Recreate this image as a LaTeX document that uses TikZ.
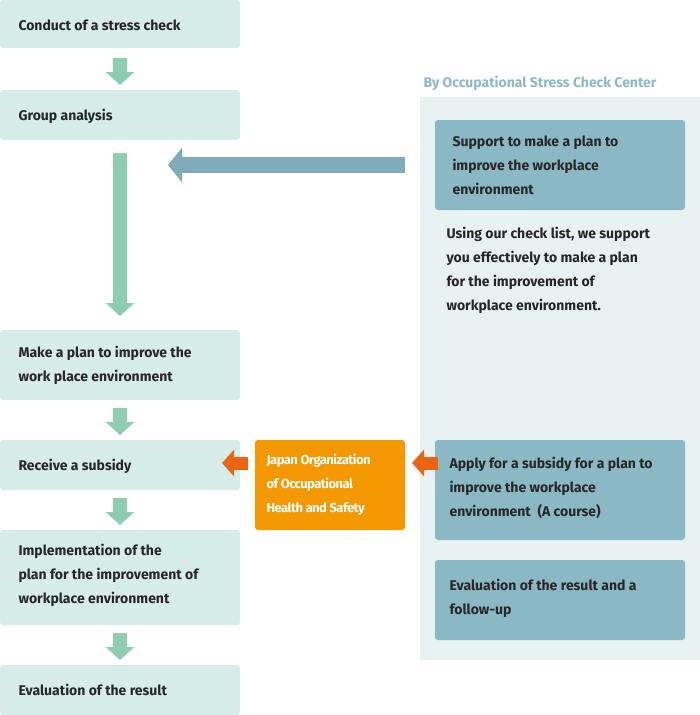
\documentclass[tikz,border=0pt]{standalone}
\usepackage{fontspec}
\setmainfont{Fira Sans}
\usetikzlibrary{arrows.meta}
\definecolor{mint}{HTML}{D6EDE9}
\definecolor{garrow}{HTML}{8DCDB0}
\definecolor{panel}{HTML}{E9F2F3}
\definecolor{dbox}{HTML}{8AB9C5}
\definecolor{barrow}{HTML}{80ABB9}
\definecolor{orng}{HTML}{F39800}
\definecolor{oarrow}{HTML}{EA6511}
\definecolor{ttl}{HTML}{8CB9C6}
\begin{document}
\begin{tikzpicture}[x=1pt,y=-1pt,
 lbox/.style={fill=mint,rounded corners=3pt,draw=none},
 rbox/.style={fill=dbox,rounded corners=3pt,draw=none},
 ltxt/.style={anchor=west,align=left,font=\fontsize{14}{24}\selectfont\bfseries,text=black!85},
 garr/.style={line width=14pt,draw=garrow,-{Triangle[length=13pt,width=28pt]}},
 barr/.style={line width=16pt,draw=barrow,-{Triangle[length=14pt,width=34pt]}},
 oarr/.style={line width=13pt,draw=oarrow,-{Triangle[length=12pt,width=26pt]}}]
\useasboundingbox (0,0) rectangle (700,715);
\fill[panel] (420,97) rectangle (700,660);
\node[anchor=west,text=ttl,font=\fontsize{14}{16}\selectfont\bfseries] (title) at (420,83) {By Occupational Stress Check Center};
% left boxes
\fill[lbox] (0,0) rectangle (240,48); \node[ltxt] (b1) at (15,25) {Conduct of a stress check};
\fill[lbox] (0,90) rectangle (240,140); \node[ltxt] (b2) at (15,116) {Group analysis};
\fill[lbox] (0,330) rectangle (240,400); \node[ltxt] (b3) at (15,365) {Make a plan to improve the\\work place environment};
\fill[lbox] (0,440) rectangle (240,490); \node[ltxt] (b4) at (15,466) {Receive a subsidy};
\fill[lbox] (0,530) rectangle (240,625); \node[ltxt] (b5) at (15,575) {Implementation of the\\plan for the improvement of\\workplace environment};
\fill[lbox] (0,665) rectangle (240,715); \node[ltxt] (b6) at (15,690) {Evaluation of the result};
% green arrows
\coordinate (g1a) at (120,58); \coordinate (g1b) at (120,85);
\coordinate (g2a) at (120,153); \coordinate (g2b) at (120,316);
\coordinate (g3a) at (120,408); \coordinate (g3b) at (120,435);
\coordinate (g4a) at (120,498); \coordinate (g4b) at (120,525);
\coordinate (g5a) at (120,633); \coordinate (g5b) at (120,660);
\draw[garr] (g1a)--(g1b); \draw[garr] (g2a)--(g2b); \draw[garr] (g3a)--(g3b);
\draw[garr] (g4a)--(g4b); \draw[garr] (g5a)--(g5b);
% right boxes
\fill[rbox] (435,120) rectangle (685,210); \node[ltxt] (r1) at (449,165) {Support to make a plan to\\improve the workplace\\environment};
\node[ltxt] (para) at (443,270) {Using our check list, we support\\you effectively to make a plan\\for the improvement of\\workplace environment.};
\fill[rbox] (435,440) rectangle (685,540); \node[ltxt] (r2) at (446,488) {Apply for a subsidy for a plan to\\improve the workplace\\environment\ \ (A course)};
\fill[rbox] (435,560) rectangle (685,640); \node[ltxt] (r3) at (446,598) {Evaluation of the result and a\\follow-up};
% orange box
\fill[orng,rounded corners=3pt] (255,440) rectangle (405,530);
\node[anchor=west,align=left,text=white,font=\fontsize{13}{24}\selectfont\bfseries\addfontfeature{LetterSpace=-4}] (jo) at (263,485) {Japan Organization\\of Occupational\\Health and Safety};
% arrows
\coordinate (ba) at (405,165); \coordinate (bb) at (168,165);
\draw[barr] (ba)--(bb);
\coordinate (o1a) at (438,463); \coordinate (o1b) at (412,463);
\coordinate (o2a) at (248,463); \coordinate (o2b) at (222,463);
\draw[oarr] (o1a)--(o1b); \draw[oarr] (o2a)--(o2b);
\end{tikzpicture}
\end{document}
